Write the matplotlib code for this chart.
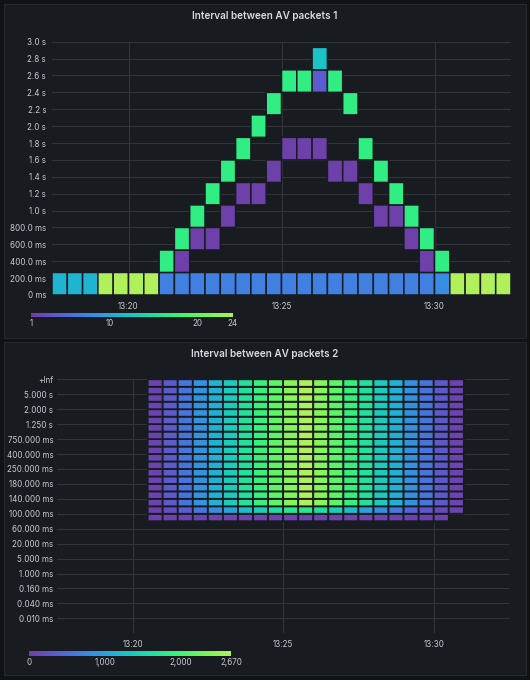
import numpy as np
import matplotlib
matplotlib.use("Agg")
import matplotlib.pyplot as plt
import matplotlib.dates as mdates
from matplotlib.colors import ListedColormap, Normalize
from matplotlib.patches import Rectangle
import matplotlib.cm as cm
import pandas as pd

# ---------------- data ----------------
title1 = "Interval between AV packets 1"
title2 = "Interval between AV packets 2"
day = "2024-01-01"
view_start, view_end = "13:17:30", "13:32:30"
x_tick_labels = ["13:20", "13:25", "13:30"]
time_step = "30s"

# panel 1: 30 time buckets x 11 interval buckets (seconds)
p1_time_start = "13:17:30"
p1_interval_edges_s = [0.0, 0.267, 0.533, 0.8, 1.067, 1.333, 1.6, 1.867, 2.133, 2.4, 2.667, 2.933]
p1_counts = [  # lowest interval bucket first
    [11, 11, 11, 24, 24, 24, 24, 7, 7, 7, 7, 7, 7, 7, 7, 7, 7, 7, 7, 7, 7, 7, 7, 7, 7, 8, 24, 24, 24, 24],
    [0, 0, 0, 0, 0, 0, 0, 17, 1, 0, 0, 0, 0, 0, 0, 0, 0, 0, 0, 0, 0, 0, 0, 0, 1, 17, 0, 0, 0, 0],
    [0, 0, 0, 0, 0, 0, 0, 0, 17, 1, 1, 0, 0, 0, 0, 0, 0, 0, 0, 0, 0, 0, 0, 1, 17, 0, 0, 0, 0, 0],
    [0, 0, 0, 0, 0, 0, 0, 0, 0, 17, 0, 1, 0, 0, 0, 0, 0, 0, 0, 0, 0, 1, 1, 17, 0, 0, 0, 0, 0, 0],
    [0, 0, 0, 0, 0, 0, 0, 0, 0, 0, 17, 0, 1, 1, 0, 0, 0, 0, 0, 0, 1, 0, 17, 0, 0, 0, 0, 0, 0, 0],
    [0, 0, 0, 0, 0, 0, 0, 0, 0, 0, 0, 17, 0, 0, 1, 0, 0, 0, 1, 1, 0, 17, 0, 0, 0, 0, 0, 0, 0, 0],
    [0, 0, 0, 0, 0, 0, 0, 0, 0, 0, 0, 0, 17, 0, 0, 1, 1, 1, 0, 0, 17, 0, 0, 0, 0, 0, 0, 0, 0, 0],
    [0, 0, 0, 0, 0, 0, 0, 0, 0, 0, 0, 0, 0, 17, 0, 0, 0, 0, 0, 0, 0, 0, 0, 0, 0, 0, 0, 0, 0, 0],
    [0, 0, 0, 0, 0, 0, 0, 0, 0, 0, 0, 0, 0, 0, 17, 0, 0, 0, 0, 17, 0, 0, 0, 0, 0, 0, 0, 0, 0, 0],
    [0, 0, 0, 0, 0, 0, 0, 0, 0, 0, 0, 0, 0, 0, 0, 17, 17, 4, 17, 0, 0, 0, 0, 0, 0, 0, 0, 0, 0, 0],
    [0, 0, 0, 0, 0, 0, 0, 0, 0, 0, 0, 0, 0, 0, 0, 0, 0, 12, 0, 0, 0, 0, 0, 0, 0, 0, 0, 0, 0, 0],
]
p1_color_range = (1, 24)
p1_legend_ticks = [1, 10, 20, 24]
p1_y_ticks_s = [0.0, 0.2, 0.4, 0.6, 0.8, 1.0, 1.2, 1.4, 1.6, 1.8, 2.0, 2.2, 2.4, 2.6, 2.8, 3.0]

# panel 2: 21 time buckets, histogram "le" buckets
p2_time_start = "13:20:30"
p2_bucket_labels = ["0.010 ms", "0.040 ms", "0.160 ms", "1.000 ms", "5.000 ms", "20.000 ms",
                    "60.000 ms", "100.000 ms", "140.000 ms", "180.000 ms", "250.000 ms",
                    "400.000 ms", "750.000 ms", "1.250 s", "2.000 s", "5.000 s", "+Inf"]
p2_first_filled_label = "100.000 ms"
p2_total = [70, 330, 600, 860, 1130, 1390, 1660, 1920, 2190, 2450, 2670,
            2440, 2180, 1910, 1650, 1380, 1120, 850, 590, 320, 60]
p2_near_100ms = [40, 190, 350, 590, 800, 1010, 1230, 1410, 1600, 1740, 1760,
                 1600, 1420, 1230, 1010, 830, 640, 430, 290, 130, 50]
p2_below_100ms = [30, 35, 40, 40, 45, 45, 50, 50, 55, 55, 60,
                  55, 55, 50, 50, 45, 45, 40, 40, 35, 0]
p2_color_range = (0, 2670)
p2_legend_ticks = [0, 1000, 2000, 2670]

# ---------------- style ----------------
PAGE = "#111217"
PANEL = "#181b1f"
BORDER = "#25282d"
GRID = "#313439"
TEXT = "#c8c8d2"
TITLE = "#d8d9e0"
plt.rcParams["font.family"] = ["Inter", "DejaVu Sans"]


def cool_cmap(n=256):
    t = np.linspace(0, 1, n)
    h = 260 + (80 - 260) * t
    s = 0.75 + (1.5 - 0.75) * t
    l = 0.35 + (0.8 - 0.35) * t
    hr = np.deg2rad(h + 120)
    a = s * l * (1 - l)
    c, sn = np.cos(hr), np.sin(hr)
    r = l + a * (-0.14861 * c + 1.78277 * sn)
    g = l + a * (-0.29227 * c - 0.90649 * sn)
    b = l + a * (1.97294 * c)
    return ListedColormap(np.clip(np.stack([r, g, b], 1), 0, 1))


cmap = cool_cmap()
W, H = 530, 680
fig = plt.figure(figsize=(W / 100, H / 100), dpi=100, facecolor=PAGE)


def fx(px):
    return px / W


def fy(py):
    return 1 - py / H


def T(s):
    return pd.Timestamp(f"{day} {s}")


def time_edges(start, n):
    return mdates.date2num(pd.date_range(T(start), periods=n + 1, freq=time_step).to_pydatetime())


for (y0, y1) in [(4, 338), (342, 675)]:
    fig.patches.append(Rectangle((fx(4), fy(y1)), fx(522), (y1 - y0) / H, transform=fig.transFigure,
                                 facecolor=PANEL, edgecolor=BORDER, linewidth=0.8, zorder=-5))

fig.text(0.5, fy(16), title1, ha="center", va="center", color=TITLE, fontsize=7.2, fontweight="semibold")
fig.text(0.5, fy(354), title2, ha="center", va="center", color=TITLE, fontsize=7.2, fontweight="semibold")

xt = [mdates.date2num(T(s)) for s in x_tick_labels]
TICK_FS = 5.8


def style(ax, ypad):
    ax.set_facecolor(PANEL)
    for s in ax.spines.values():
        s.set_visible(False)
    ax.tick_params(length=0, labelsize=TICK_FS, colors=TEXT)
    ax.tick_params(axis="x", pad=5)
    ax.tick_params(axis="y", pad=ypad)
    ax.set_xlim(mdates.date2num(T(view_start)), mdates.date2num(T(view_end)))
    ax.set_xticks(xt)
    ax.set_xticklabels(x_tick_labels)
    ax.grid(True, color=GRID, linewidth=0.8)
    ax.set_axisbelow(True)


# ---- panel 1 ----
ax1 = fig.add_axes([fx(52), fy(295), (511 - 52) / W, (295 - 41.7) / H])
style(ax1, 4.3)
xe1 = time_edges(p1_time_start, len(p1_counts[0]))
C1 = np.ma.masked_equal(np.array(p1_counts), 0)
norm1 = Normalize(*p1_color_range)
ax1.pcolor(xe1, p1_interval_edges_s, C1, cmap=cmap, norm=norm1, edgecolors=PANEL, linewidth=1.1, zorder=2)
ax1.set_ylim(p1_y_ticks_s[0], p1_y_ticks_s[-1])
ax1.set_yticks(p1_y_ticks_s)


def fmt_s(v):
    if v == 0:
        return "0 ms"
    if v < 1:
        return f"{v * 1000:.1f} ms"
    return f"{v:.1f} s"


ax1.set_yticklabels([fmt_s(v) for v in p1_y_ticks_s])

cax1 = fig.add_axes([fx(31), fy(317.3), 202 / W, 4.6 / H])
cb1 = fig.colorbar(cm.ScalarMappable(norm=norm1, cmap=cmap), cax=cax1, orientation="horizontal")
cb1.outline.set_visible(False)
cb1.set_ticks(p1_legend_ticks)
cb1.set_ticklabels([f"{v:,}" for v in p1_legend_ticks])
cax1.tick_params(length=0, labelsize=TICK_FS, colors=TEXT, pad=1.5)

# ---- panel 2 ----
ax2 = fig.add_axes([fx(57.3), fy(633.3), (509 - 57.3) / W, (633.3 - 379.3) / H])
style(ax2, 3)
n_lab = len(p2_bucket_labels)
ypos = np.arange(1, n_lab + 1)
ax2.set_ylim(0, n_lab)
ax2.set_yticks(ypos)
ax2.set_yticklabels(p2_bucket_labels)
ax2.axhline(0, color=GRID, linewidth=0.8, zorder=0)
first = p2_bucket_labels.index(p2_first_filled_label) + 1
ye2 = np.arange(first - 0.5, n_lab + 0.01, 0.5)
n_rows = len(ye2) - 1
C2 = np.array([p2_below_100ms, p2_near_100ms] + [p2_total] * (n_rows - 2))
C2 = np.ma.masked_equal(C2, 0)
xe2 = time_edges(p2_time_start, len(p2_total))
norm2 = Normalize(*p2_color_range)
ax2.pcolor(xe2, ye2, C2, cmap=cmap, norm=norm2, edgecolors=PANEL, linewidth=1.3, zorder=2)

cax2 = fig.add_axes([fx(29), fy(655.7), 202 / W, 4.7 / H])
cb2 = fig.colorbar(cm.ScalarMappable(norm=norm2, cmap=cmap), cax=cax2, orientation="horizontal")
cb2.outline.set_visible(False)
cb2.set_ticks(p2_legend_ticks)
cb2.set_ticklabels([f"{v:,}" for v in p2_legend_ticks])
cax2.tick_params(length=0, labelsize=TICK_FS, colors=TEXT, pad=1.5)

fig.savefig("out.png", dpi=100, facecolor=PAGE)
